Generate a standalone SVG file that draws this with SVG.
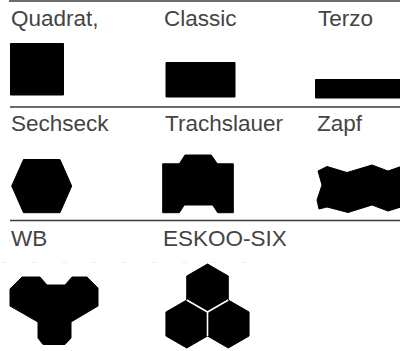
<svg xmlns="http://www.w3.org/2000/svg" width="400" height="351" viewBox="0 0 400 351">
<style>
.lbl{font-family:"Liberation Sans",Arial,sans-serif;font-size:22.5px;fill:#444}
.shape{fill:#000;stroke:#000;stroke-width:1;stroke-linejoin:round}
.rule{stroke:#3a3a3a;stroke-width:1.6;fill:none}
.gap{stroke:#fff;stroke-width:1.6;fill:none}
</style>
<rect width="400" height="351" fill="#fff"/>
<g id="rules">
<line class="rule" x1="9" y1="1" x2="400" y2="1"/>
<line class="rule" x1="10" y1="107" x2="400" y2="107"/>
<line class="rule" x1="10" y1="220.5" x2="400" y2="220.5"/>
<line x1="0" y1="262.5" x2="260" y2="262.5" stroke="#eeeeee" stroke-width="1" stroke-dasharray="5 25" stroke-dashoffset="-2"/>
</g>
<g id="quadrat">
<text class="lbl" x="11" y="26">Quadrat,</text>
<rect class="shape" x="10.5" y="43.5" width="53" height="51.5"/>
</g>
<g id="classic">
<text class="lbl" x="164" y="26">Classic</text>
<rect class="shape" x="166" y="62.5" width="69" height="34.5"/>
</g>
<g id="terzo">
<text class="lbl" x="318" y="26">Terzo</text>
<rect class="shape" x="315.5" y="79.5" width="86" height="18.5"/>
</g>
<g id="sechseck">
<text class="lbl" x="11" y="131">Sechseck</text>
<polygon class="shape" points="11.7,186 23.5,159.5 60,159.5 71.7,186 60,212.7 23.5,212.7"/>
</g>
<g id="trachslauer">
<text class="lbl" x="165" y="131">Trachslauer</text>
<polygon class="shape" points="162.7,163.8 179.3,163.8 185,155 211.2,155 217.3,163.8 233.3,163.8 233.3,212.7 217.7,212.7 212.7,205 184.3,205 179.3,212.7 162.7,212.7"/>
</g>
<g id="zapf">
<text class="lbl" x="317" y="131">Zapf</text>
<polygon class="shape" points="318,171 327,166.5 347,172.5 372,165 388,171 401,166.5 401,207 388,211 372,205 348,212.5 327,207 319,209 317,200 322,185"/>
</g>
<g id="wb">
<text class="lbl" x="11" y="246">WB</text>
<polygon class="shape" points="22,277 40,277 47,285 65,285 72,277 87,277 98,288 98,306 71,322 71,338 65,344.5 43,344.5 38,338 38,322 10,306 10,289"/>
</g>
<g id="eskoo-six">
<text class="lbl" x="163" y="246">ESKOO-SIX</text>
<polygon class="shape" points="207.5,264 228.28,276 228.28,300 207.5,312 186.72,300 186.72,276"/>
<polygon class="shape" points="186.72,300 207.5,312 207.5,336 186.72,348 165.94,336 165.94,312"/>
<polygon class="shape" points="228.28,300 249.06,312 249.06,336 228.28,348 207.5,336 207.5,312"/>
<polyline class="gap" points="186.72,300 207.5,312 228.28,300"/>
<line class="gap" x1="207.5" y1="312" x2="207.5" y2="336"/>
</g>
</svg>
